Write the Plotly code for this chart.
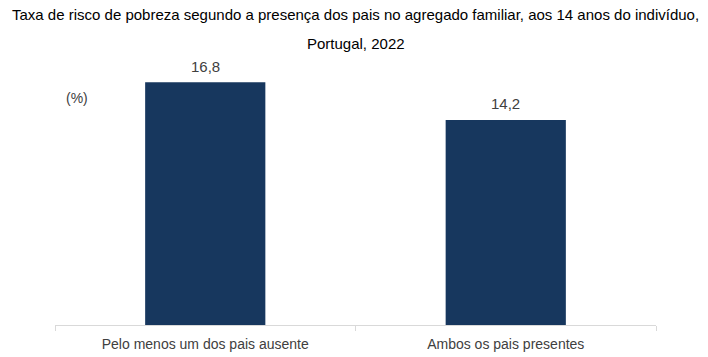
import plotly.graph_objects as go

categories = ["Pelo menos um dos pais ausente", "Ambos os pais presentes"]
values = [16.8, 14.2]
value_labels = ["16,8", "14,2"]
title_lines = ["Taxa de risco de pobreza segundo a presença dos pais no agregado familiar, aos 14 anos do indivíduo,",
               "Portugal, 2022"]
unit_label = "(%)"

FONT = "Liberation Sans, Arial, sans-serif"

W, H = 708, 357
ML, MR, MT, MB = 55, 52, 65, 32
ph = H - MT - MB
pw = W - ML - MR

def py(pix):
    return (H - MB - pix) / ph

def px(pix):
    return (pix - ML) / pw

fig = go.Figure()
fig.add_trace(go.Bar(
    x=categories, y=values,
    marker=dict(color="#17375e", line=dict(width=0)),
))
for c, v, lab in zip(categories, values, value_labels):
    fig.add_annotation(x=c, y=v, text=lab, yshift=16, xanchor="center", yanchor="middle",
                       showarrow=False, font=dict(size=15, color="#404040", family=FONT))

fig.update_layout(
    width=W, height=H,
    margin=dict(l=ML, r=MR, t=MT, b=MB),
    plot_bgcolor="white", paper_bgcolor="white",
    bargap=0.6, showlegend=False,
    font=dict(family=FONT, color="#404040"),
)
fig.update_xaxes(
    showline=True, linecolor="#d9d9d9", linewidth=1,
    ticks="outside", tickson="boundaries", ticklen=5, tickcolor="#d9d9d9",
    tickfont=dict(size=14, color="#404040", family=FONT),
    ticklabelstandoff=6, automargin=False,
    showgrid=False,
)
fig.update_yaxes(range=[0, 18], visible=False, showgrid=False, automargin=False)

fig.add_annotation(text=title_lines[0], xref="paper", yref="paper", x=0.5, y=py(14),
                   xanchor="center", yanchor="middle", showarrow=False,
                   font=dict(size=15, color="#000000", family=FONT))
fig.add_annotation(text=title_lines[1], xref="paper", yref="paper", x=0.5, y=py(43),
                   xanchor="center", yanchor="middle", showarrow=False,
                   font=dict(size=15, color="#000000", family=FONT))
fig.add_annotation(text=unit_label, xref="paper", yref="paper", x=px(77), y=py(98),
                   xanchor="center", yanchor="middle", showarrow=False,
                   font=dict(size=14, color="#404040", family=FONT))

fig.write_html("out.html")
